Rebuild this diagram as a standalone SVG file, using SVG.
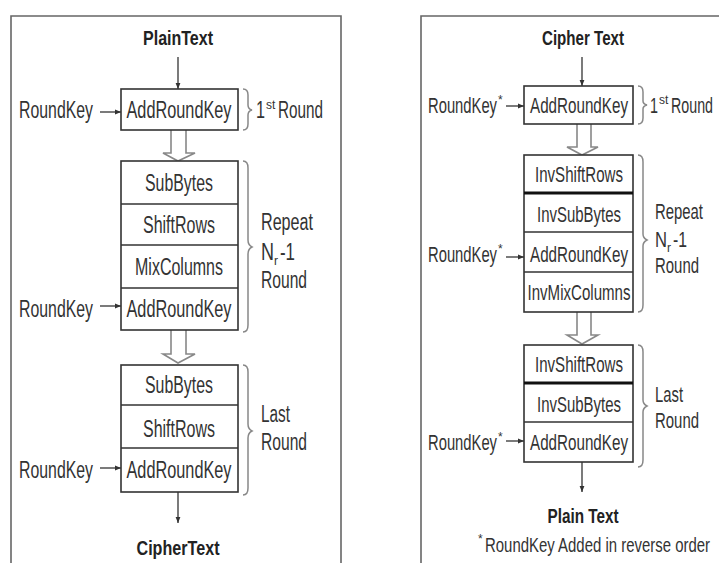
<svg xmlns="http://www.w3.org/2000/svg" width="719" height="563" viewBox="0 0 719 563">
<style>
.frame{fill:none;stroke:#666;stroke-width:1.6}
.box{fill:#fff;stroke:#333;stroke-width:1.6}
.sep{stroke:#333;stroke-width:1.6}
.thick{stroke:#111;stroke-width:3}
.t{font-family:"Liberation Sans Narrow","Liberation Sans",Arial,sans-serif;font-size:23px;fill:#333}
.ts{font-family:"Liberation Sans Narrow","Liberation Sans",Arial,sans-serif;font-size:22px;fill:#333}
.fn{font-family:"Liberation Sans Narrow","Liberation Sans",Arial,sans-serif;font-size:21px;fill:#333}
.b{font-family:"Liberation Sans Narrow","Liberation Sans",Arial,sans-serif;font-size:20px;font-weight:bold;fill:#222}
.sup{font-size:12px}
.c{text-anchor:middle}
.arr{stroke:#333;stroke-width:1.3;fill:none;marker-end:url(#ah)}
.hol{fill:#fff;stroke:#888;stroke-width:1.6}
.brace{fill:none;stroke:#888;stroke-width:1.5}
</style>
<defs>
<marker id="ah" viewBox="0 0 10 10" refX="10" refY="5" markerWidth="6" markerHeight="6" orient="auto" markerUnits="userSpaceOnUse">
<path d="M0,1 L10,5 L0,9 z" fill="#333"/>
</marker>
</defs>

<g id="frames">
<path class="frame" d="M11,563 V16 H341 V563"/>
<path class="frame" d="M421,563 V16 H719"/>
</g>

<g id="connectors">
<line class="arr" x1="178" y1="57" x2="178" y2="89"/>
<line class="arr" x1="100" y1="112" x2="121" y2="112"/>
<line class="arr" x1="100" y1="306" x2="121" y2="306"/>
<line class="arr" x1="100" y1="468" x2="121" y2="468"/>
<line class="arr" x1="178" y1="492" x2="178" y2="523"/>
<path class="hol" d="M171,130 V153 H163 L178,161 L195,153 H186 V130"/>
<path class="hol" d="M171,330 V354 H163 L178,363 L195,354 H186 V330"/>

<line class="arr" x1="506" y1="106" x2="524" y2="106"/>
<line class="arr" x1="582" y1="57" x2="582" y2="86"/>
<line class="arr" x1="506" y1="257" x2="524" y2="257"/>
<line class="arr" x1="506" y1="441" x2="524" y2="441"/>
<line class="arr" x1="582" y1="462" x2="582" y2="492"/>
<path class="hol" d="M577,124 V147 H567 L582,155 L598,147 H591 V124"/>
<path class="hol" d="M577,312 V335 H567 L582,344 L598,335 H591 V312"/>
</g>

<g id="left-title"><text class="b c" x="178" y="45" textLength="70" lengthAdjust="spacingAndGlyphs">PlainText</text></g>

<g id="left-first">
<rect class="box" x="121" y="89" width="117" height="41"/>
<text class="t c" x="179" y="118" textLength="105" lengthAdjust="spacingAndGlyphs">AddRoundKey</text>
<text class="t" x="19" y="118" textLength="74" lengthAdjust="spacingAndGlyphs">RoundKey</text>
<path class="brace" d="M243,89 Q248,89 248,95 V105 Q248,109 252,110 Q248,111 248,115 V124 Q248,130 243,130"/>
<text class="t" x="256" y="118"><tspan textLength="9" lengthAdjust="spacingAndGlyphs">1</tspan><tspan class="sup" x="266" dy="-9">st</tspan><tspan x="278" dy="9" textLength="45" lengthAdjust="spacingAndGlyphs">Round</tspan></text>
</g>

<g id="left-repeat">
<rect class="box" x="121" y="161" width="117" height="169"/>
<line class="sep" x1="121" y1="204" x2="238" y2="204"/>
<line class="sep" x1="121" y1="245" x2="238" y2="245"/>
<line class="sep" x1="121" y1="288" x2="238" y2="288"/>
<text class="t c" x="179" y="191" textLength="68" lengthAdjust="spacingAndGlyphs">SubBytes</text>
<text class="t c" x="179" y="233" textLength="72" lengthAdjust="spacingAndGlyphs">ShiftRows</text>
<text class="t c" x="179" y="275" textLength="88" lengthAdjust="spacingAndGlyphs">MixColumns</text>
<text class="t c" x="179" y="317" textLength="105" lengthAdjust="spacingAndGlyphs">AddRoundKey</text>
<text class="t" x="19" y="317" textLength="74" lengthAdjust="spacingAndGlyphs">RoundKey</text>
<path class="brace" d="M243,161 Q248,161 248,168 V240 Q248,245 252,247 Q248,249 248,254 V325 Q248,332 243,332"/>
<text class="t" x="261" y="230" textLength="52" lengthAdjust="spacingAndGlyphs">Repeat</text>
<text class="t" x="261" y="260"><tspan textLength="13" lengthAdjust="spacingAndGlyphs">N</tspan><tspan class="sup" x="274" dy="5">r</tspan><tspan x="280" dy="-5" textLength="15" lengthAdjust="spacingAndGlyphs">-1</tspan></text>
<text class="t" x="261" y="288" textLength="46" lengthAdjust="spacingAndGlyphs">Round</text>
</g>

<g id="left-last">
<rect class="box" x="121" y="365" width="117" height="127"/>
<line class="sep" x1="121" y1="405" x2="238" y2="405"/>
<line class="sep" x1="121" y1="448" x2="238" y2="448"/>
<text class="t c" x="179" y="393" textLength="68" lengthAdjust="spacingAndGlyphs">SubBytes</text>
<text class="t c" x="179" y="437" textLength="72" lengthAdjust="spacingAndGlyphs">ShiftRows</text>
<text class="t c" x="179" y="478" textLength="105" lengthAdjust="spacingAndGlyphs">AddRoundKey</text>
<text class="t" x="19" y="478" textLength="74" lengthAdjust="spacingAndGlyphs">RoundKey</text>
<path class="brace" d="M243,365 Q248,365 248,372 V424 Q248,429 252,431 Q248,433 248,438 V488 Q248,495 243,495"/>
<text class="t" x="261" y="422" textLength="29" lengthAdjust="spacingAndGlyphs">Last</text>
<text class="t" x="261" y="450" textLength="46" lengthAdjust="spacingAndGlyphs">Round</text>
</g>

<g id="left-output"><text class="b c" x="178" y="555" textLength="83" lengthAdjust="spacingAndGlyphs">CipherText</text></g>

<g id="right-title"><text class="b c" x="583" y="45" textLength="82" lengthAdjust="spacingAndGlyphs">Cipher Text</text></g>

<g id="right-first">
<rect class="box" x="524" y="86" width="109" height="38"/>
<text class="ts c" x="579" y="113" textLength="98" lengthAdjust="spacingAndGlyphs">AddRoundKey</text>
<text class="ts" x="428" y="113"><tspan textLength="69" lengthAdjust="spacingAndGlyphs">RoundKey</tspan><tspan class="sup" x="498" dy="-9">*</tspan></text>
<path class="brace" d="M638,86 Q643,86 643,92 V101 Q643,104 647,105 Q643,106 643,109 V118 Q643,124 638,124"/>
<text class="ts" x="650" y="113"><tspan textLength="8" lengthAdjust="spacingAndGlyphs">1</tspan><tspan class="sup" x="659" dy="-9">st</tspan><tspan x="671" dy="9" textLength="42" lengthAdjust="spacingAndGlyphs">Round</tspan></text>
</g>

<g id="right-repeat">
<rect class="box" x="524" y="155" width="109" height="157"/>
<line class="thick" x1="524" y1="193" x2="633" y2="193"/>
<line class="sep" x1="524" y1="232" x2="633" y2="232"/>
<line class="sep" x1="524" y1="272" x2="633" y2="272"/>
<text class="ts c" x="579" y="182" textLength="88" lengthAdjust="spacingAndGlyphs">InvShiftRows</text>
<text class="ts c" x="579" y="222" textLength="84" lengthAdjust="spacingAndGlyphs">InvSubBytes</text>
<text class="ts c" x="579" y="262" textLength="98" lengthAdjust="spacingAndGlyphs">AddRoundKey</text>
<text class="ts c" x="579" y="300" textLength="103" lengthAdjust="spacingAndGlyphs">InvMixColumns</text>
<text class="ts" x="428" y="262"><tspan textLength="69" lengthAdjust="spacingAndGlyphs">RoundKey</tspan><tspan class="sup" x="498" dy="-9">*</tspan></text>
<path class="brace" d="M638,155 Q643,155 643,162 V234 Q643,238 647,240 Q643,242 643,246 V305 Q643,312 638,312"/>
<text class="ts" x="655" y="219" textLength="48" lengthAdjust="spacingAndGlyphs">Repeat</text>
<text class="ts" x="655" y="247"><tspan textLength="12" lengthAdjust="spacingAndGlyphs">N</tspan><tspan class="sup" x="667" dy="5">r</tspan><tspan x="673" dy="-5" textLength="14" lengthAdjust="spacingAndGlyphs">-1</tspan></text>
<text class="ts" x="655" y="273" textLength="44" lengthAdjust="spacingAndGlyphs">Round</text>
</g>

<g id="right-last">
<rect class="box" x="524" y="345" width="109" height="117"/>
<line class="thick" x1="524" y1="383" x2="633" y2="383"/>
<line class="sep" x1="524" y1="422" x2="633" y2="422"/>
<text class="ts c" x="579" y="372" textLength="88" lengthAdjust="spacingAndGlyphs">InvShiftRows</text>
<text class="ts c" x="579" y="412" textLength="84" lengthAdjust="spacingAndGlyphs">InvSubBytes</text>
<text class="ts c" x="579" y="450" textLength="98" lengthAdjust="spacingAndGlyphs">AddRoundKey</text>
<text class="ts" x="428" y="450"><tspan textLength="69" lengthAdjust="spacingAndGlyphs">RoundKey</tspan><tspan class="sup" x="498" dy="-9">*</tspan></text>
<path class="brace" d="M638,345 Q643,345 643,352 V400 Q643,404 647,406 Q643,408 643,412 V460 Q643,467 638,467"/>
<text class="ts" x="655" y="402" textLength="28" lengthAdjust="spacingAndGlyphs">Last</text>
<text class="ts" x="655" y="428" textLength="44" lengthAdjust="spacingAndGlyphs">Round</text>
</g>

<g id="right-output">
<text class="b c" x="583" y="523" textLength="71" lengthAdjust="spacingAndGlyphs">Plain Text</text>
<text class="fn" x="478" y="552"><tspan class="sup" dy="-9">*</tspan><tspan x="485" dy="9" textLength="225" lengthAdjust="spacingAndGlyphs">RoundKey Added in reverse order</tspan></text>
</g>
</svg>
